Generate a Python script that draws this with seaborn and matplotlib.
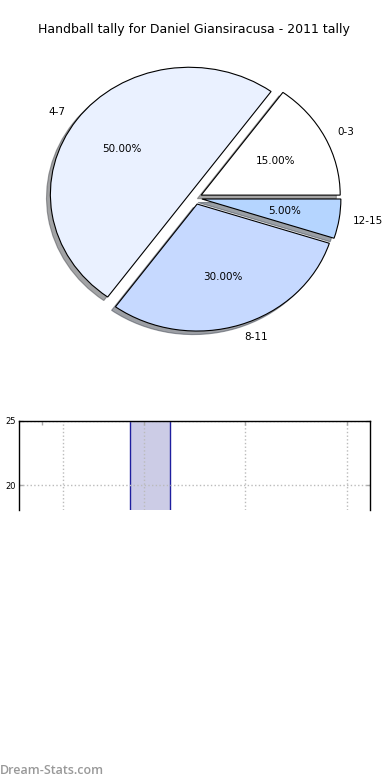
import numpy as np
import matplotlib
matplotlib.use("Agg")
import matplotlib.pyplot as plt
import seaborn as sns

# tally data (games per goal band)
categories = ["0-3", "4-7", "8-11", "12-15"]
games = [9, 30, 18, 3]
pie_colors = ["#FFFFFF", "#EAF1FF", "#C6D9FF", "#B5D5FF"]
title = "Handball tally for Daniel Giansiracusa - 2011 tally"

sns.set_theme(style="white")
plt.rcParams["font.family"] = ["DejaVu Sans"]
plt.rcParams["text.color"] = "black"

W, H = 390, 780
fig = plt.figure(figsize=(W / 100, H / 100), dpi=100)
fig.patch.set_facecolor("white")


def px_axes(x0, y0, x1, y1):
    # axes from pixel box (top-left origin)
    return fig.add_axes([x0 / W, 1 - y1 / H, (x1 - x0) / W, (y1 - y0) / H])


fig.text(194 / W, 1 - 30 / H, title, ha="center", va="center", fontsize=9)

# ---- pie ----
rx, ry, cx, cy, lim = 139, 127, 195, 198, 1.3
ax1 = px_axes(cx - rx * lim, cy - ry * lim, cx + rx * lim, cy + ry * lim)
ax1.pie(games, labels=categories, colors=pie_colors,
        explode=[0.05] * len(games), autopct="%.2f%%",
        startangle=0, shadow=True, pctdistance=0.6, labeldistance=1.1,
        wedgeprops=dict(edgecolor="black", linewidth=0.8),
        textprops=dict(fontsize=7.5, color="black"))
ax1.set_aspect("auto")
ax1.set_xlim(-lim, lim)
ax1.set_ylim(-lim, lim)
ax1.axis("off")

# ---- bar chart (only top part is shown) ----
ax2 = px_axes(19, 421, 370, 510)
sns.barplot(x=categories, y=games, ax=ax2, order=categories,
            color="#CCCCE6", saturation=1, width=0.39,
            edgecolor="#1F1F9F", linewidth=1)
ax2.set_xlim(-0.286, 3.165)
ax2.set_ylim(18.05, 25)
ax2.set_xticks(np.arange(len(categories)) - 0.06)
ax2.set_xticklabels([])
ax2.set_yticks([20, 25])
ax2.set_xlabel("")
ax2.set_ylabel("")
ax2.tick_params(axis="both", direction="in", length=3, width=1,
                colors="#AAAAAA", labelcolor="black", labelsize=6,
                top=True, right=True, bottom=False, left=True, pad=2)
ax2.grid(True, linestyle=":", color="#BBBBBB", linewidth=1)
ax2.set_axisbelow("line")
ax2.xaxis.get_gridlines()[0].set_visible(False)
ax2.axvline(0.146, linestyle=":", color="#BBBBBB", linewidth=1, zorder=1.5)
for side in ["top", "left", "right"]:
    ax2.spines[side].set_color("black")
    ax2.spines[side].set_linewidth(1)
    ax2.spines[side].set_zorder(3)
ax2.spines["bottom"].set_visible(False)

fig.text(0, 1 - 770 / H, "Dream-Stats.com", ha="left", va="center",
         fontsize=9, color="#999999", family=["Open Sans", "DejaVu Sans"],
         fontweight="semibold")

fig.savefig("out.png", dpi=100)
